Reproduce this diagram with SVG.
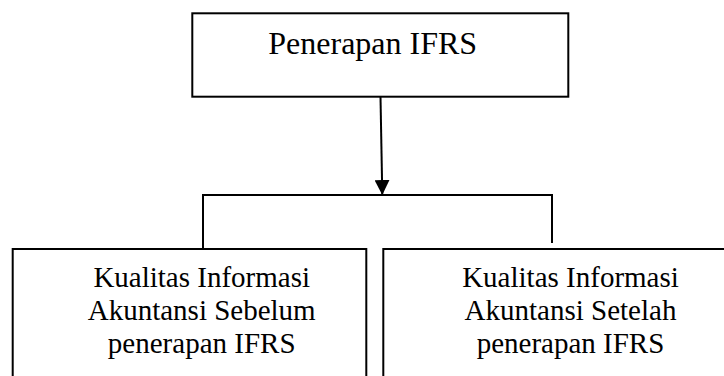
<svg xmlns="http://www.w3.org/2000/svg" width="724" height="376" viewBox="0 0 724 376">
<style>
.box{fill:#fff;stroke:#000;stroke-width:2}
.ln{fill:none;stroke:#000;stroke-width:2}
text{font-family:'Liberation Serif','Times New Roman','DejaVu Serif',serif;fill:#000;text-anchor:middle}
.t1{font-size:32px}
.t2{font-size:29px}
</style>
<defs>
<marker id="ah" markerWidth="15" markerHeight="15" refX="15" refY="7.5" orient="auto" markerUnits="userSpaceOnUse">
<path d="M0,0 L15,7.5 L0,15 Z" fill="#000"/>
</marker>
</defs>
<g id="connectors">
<path class="ln" d="M380.5,97 L382.3,195" marker-end="url(#ah)"/>
<path class="ln" d="M203,248 L203,195 L552,195 L552,243"/>
</g>
<g id="node-top">
<rect class="box" x="192.3" y="13.3" width="376" height="83.4"/>
<text class="t1" x="372.7" y="53.5">Penerapan IFRS</text>
</g>
<g id="node-left">
<rect class="box" x="12.7" y="249" width="353.6" height="140"/>
<text class="t2" x="201.7" y="287">Kualitas Informasi</text>
<text class="t2" x="201.7" y="320">Akuntansi Sebelum</text>
<text class="t2" x="201.7" y="353">penerapan IFRS</text>
</g>
<g id="node-right">
<rect class="box" x="383.3" y="249" width="360" height="140"/>
<text class="t2" x="570.5" y="287">Kualitas Informasi</text>
<text class="t2" x="570.5" y="320">Akuntansi Setelah</text>
<text class="t2" x="570.5" y="353">penerapan IFRS</text>
</g>
</svg>
